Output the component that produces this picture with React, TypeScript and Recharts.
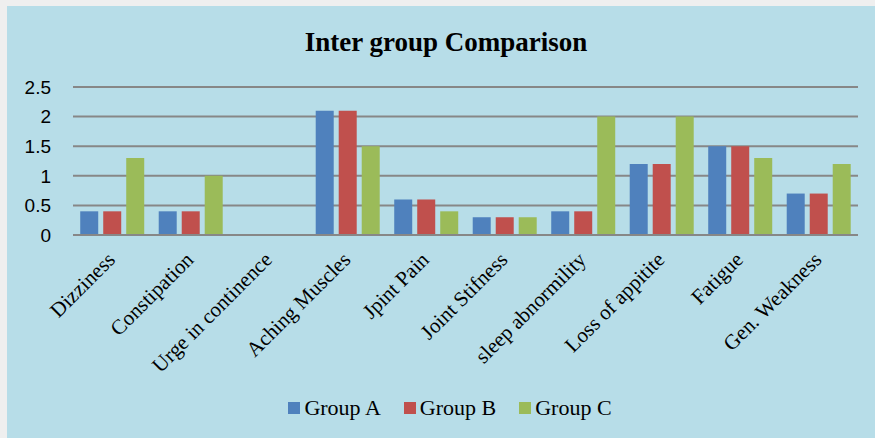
import React from "react";
import { BarChart, Bar, XAxis, YAxis, CartesianGrid, Legend } from "recharts";

const categories = [
  "Dizziness",
  "Constipation",
  "Urge in continence",
  "Aching Muscles",
  "Jpint Pain",
  "Joint Stifness",
  "sleep abnormility",
  "Loss of appitite",
  "Fatigue",
  "Gen. Weakness",
];
const groupA = [0.4, 0.4, 0, 2.1, 0.6, 0.3, 0.4, 1.2, 1.5, 0.7];
const groupB = [0.4, 0.4, 0, 2.1, 0.6, 0.3, 0.4, 1.2, 1.5, 0.7];
const groupC = [1.3, 1.0, 0, 1.5, 0.4, 0.3, 2.0, 2.0, 1.3, 1.2];
const yTicks = [0, 0.5, 1, 1.5, 2, 2.5];
const seriesNames = ["Group A", "Group B", "Group C"];
const colors = ["#4F81BD", "#C0504D", "#9BBB59"];

const data = categories.map((c, i) => ({
  name: c,
  a: groupA[i],
  b: groupB[i],
  c: groupC[i],
}));

const XTick = (props: any) => {
  const { x, y, payload } = props;
  return (
    <g transform={`translate(${x + 4},${y + 26})`}>
      <text
        transform="rotate(-45)"
        textAnchor="end"
        fill="#000"
        style={{ fontFamily: "'Liberation Serif', 'Times New Roman', serif", fontSize: 21 }}
      >
        {payload.value}
      </text>
    </g>
  );
};

const LegendContent = (props: any) => {
  const { payload } = props;
  return (
    <div
      style={{
        height: 40,
        display: "flex",
        alignItems: "center",
        justifyContent: "center",
        paddingLeft: 35,
        boxSizing: "border-box",
      }}
    >
      {(payload || []).map((p: any, i: number) => (
        <div
          key={i}
          style={{
            display: "flex",
            alignItems: "center",
            marginRight: i < payload.length - 1 ? 23 : 0,
          }}
        >
          <span
            style={{
              display: "inline-block",
              width: 12,
              height: 12,
              background: p.color,
              marginRight: 4,
            }}
          />
          <span
            style={{
              fontFamily: "'Liberation Serif', 'Times New Roman', serif",
              fontSize: 22,
              lineHeight: "22px",
              color: "#000",
            }}
          >
            {p.value}
          </span>
        </div>
      ))}
    </div>
  );
};

export default function App() {
  return (
    <div
      style={{
        position: "fixed",
        left: 0,
        top: 0,
        width: 875,
        height: 438,
        background: "#EFEFEF",
      }}
    >
      <div
        style={{
          position: "absolute",
          left: 7,
          top: 6,
          width: 868,
          height: 432,
          background: "#B7DDE8",
        }}
      >
        <div
          style={{
            position: "absolute",
            left: 0,
            top: 23,
            width: 868,
            paddingLeft: 10,
            boxSizing: "border-box",
            textAlign: "center",
            fontFamily: "'Liberation Serif', 'Times New Roman', serif",
            fontWeight: "bold",
            fontSize: 27,
            lineHeight: "27px",
            color: "#000",
          }}
        >
          Inter group Comparison
        </div>
        <BarChart
          width={868}
          height={432}
          data={data}
          margin={{ top: 81, right: 17, left: 0, bottom: 10 }}
          barCategoryGap="9.2%"
          barGap={5}
          style={{ position: "absolute", left: 0, top: 0 }}
        >
          <CartesianGrid vertical={false} stroke="#878787" strokeWidth={2} />
          <XAxis
            dataKey="name"
            interval={0}
            height={153}
            tickSize={0}
            tickMargin={0}
            tickLine={false}
            axisLine={{ stroke: "#878787", strokeWidth: 2 }}
            tick={<XTick />}
          />
          <YAxis
            width={66}
            domain={[0, 2.5]}
            ticks={yTicks}
            axisLine={false}
            tickLine={false}
            tickSize={0}
            tickMargin={22}
            tick={{
              fill: "#000",
              fontSize: 19,
              fontFamily: "'Liberation Sans', Arial, sans-serif",
            }}
          />
          <Legend verticalAlign="bottom" height={40} content={<LegendContent />} />
          <Bar dataKey="a" name={seriesNames[0]} fill={colors[0]} isAnimationActive={false} />
          <Bar dataKey="b" name={seriesNames[1]} fill={colors[1]} isAnimationActive={false} />
          <Bar dataKey="c" name={seriesNames[2]} fill={colors[2]} isAnimationActive={false} />
        </BarChart>
      </div>
    </div>
  );
}
